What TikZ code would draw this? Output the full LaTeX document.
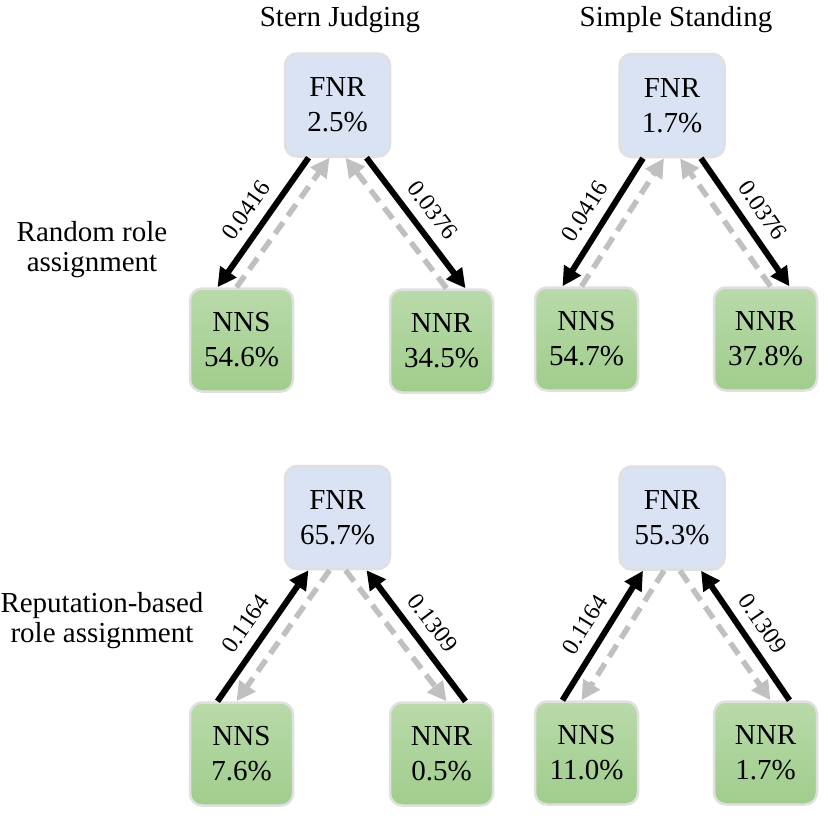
\documentclass[tikz,border=0pt]{standalone}
\usepackage{fontspec}
\setmainfont{Liberation Serif}
\usetikzlibrary{arrows.meta}
\definecolor{fnrfill}{HTML}{DAE3F3}
\definecolor{gtop}{HTML}{B9DAAA}
\definecolor{gbot}{HTML}{A0CD8C}
\definecolor{edgegray}{HTML}{C0C0C0}
\definecolor{boxline}{HTML}{E0E0E0}
\begin{document}
\begin{tikzpicture}[x=1pt,y=-1pt,
  boxbase/.style={rounded corners=12pt, draw=boxline, line width=2.5pt, minimum width=103pt, minimum height=103pt, inner sep=0pt, align=center, font=\fontsize{29}{35}\selectfont},
  fnrbox/.style={boxbase, fill=fnrfill, minimum width=105pt},
  nbox/.style={boxbase, top color=gtop, bottom color=gbot},
  solidarrow/.style={line width=6pt, draw=black, -{Triangle[length=19pt,width=19pt]}},
  dasharrow/.style={line width=5.5pt, draw=edgegray, dash pattern=on 14pt off 8pt, -{Triangle[length=19pt,width=19pt]}},
  ratelabel/.style={midway, sloped, above=8pt, inner sep=2pt, font=\fontsize{24}{28}\selectfont},
  heading/.style={font=\fontsize{29}{35}\selectfont},
  rowlabel/.style={align=center, font=\fontsize{29}{30}\selectfont}]
\useasboundingbox (0,0) rectangle (830,817);

% headings and row labels
\node[heading, anchor=base] (t1) at (340,26) {Stern Judging};
\node[heading, anchor=base] (t2) at (676,26) {Simple Standing};
\node[rowlabel] (r1) at (92,250) {Random role\\assignment};
\node[rowlabel] (r2) at (102,621) {Reputation-based\\role assignment};

% top-left
\node[fnrbox] (f1) at (337.5,105) {FNR\\2.5\%};
\node[nbox] (s1) at (241.5,340) {NNS\\54.6\%};
\node[nbox] (n1) at (441.5,341) {NNR\\34.5\%};
% top-right
\node[fnrbox] (f2) at (672,105.5) {FNR\\1.7\%};
\node[nbox] (s2) at (586.5,339) {NNS\\54.7\%};
\node[nbox] (n2) at (765.5,339) {NNR\\37.8\%};
% bottom-left
\node[fnrbox] (f3) at (337.5,517.5) {FNR\\65.7\%};
\node[nbox] (s3) at (241.5,754) {NNS\\7.6\%};
\node[nbox] (n3) at (441.5,754) {NNR\\0.5\%};
% bottom-right
\node[fnrbox] (f4) at (672,518) {FNR\\55.3\%};
\node[nbox] (s4) at (586.5,753) {NNS\\11.0\%};
\node[nbox] (n4) at (765.5,753) {NNR\\1.7\%};

% top-left edges
\draw[dasharrow] ([xshift=-5pt]s1.north) -- ([xshift=-8pt]f1.south);
\draw[dasharrow] ([xshift=5pt]n1.north) -- ([xshift=8pt]f1.south);
\draw[solidarrow] ([xshift=-29pt]f1.south) -- node[ratelabel]{0.0416} ([xshift=-24pt]s1.north);
\draw[solidarrow] ([xshift=29pt]f1.south) -- node[ratelabel]{0.0376} ([xshift=24pt]n1.north);
% top-right edges
\draw[dasharrow] ([xshift=-5pt]s2.north) -- ([xshift=-8pt]f2.south);
\draw[dasharrow] ([xshift=5pt]n2.north) -- ([xshift=8pt]f2.south);
\draw[solidarrow] ([xshift=-29pt]f2.south) -- node[ratelabel]{0.0416} ([xshift=-24pt]s2.north);
\draw[solidarrow] ([xshift=29pt]f2.south) -- node[ratelabel]{0.0376} ([xshift=24pt]n2.north);
% bottom-left edges
\draw[dasharrow] ([xshift=-8pt]f3.south) -- ([xshift=-5pt]s3.north);
\draw[dasharrow] ([xshift=8pt]f3.south) -- ([xshift=5pt]n3.north);
\draw[solidarrow] ([xshift=-24pt]s3.north) -- node[ratelabel]{0.1164} ([xshift=-29pt]f3.south);
\draw[solidarrow] ([xshift=24pt]n3.north) -- node[ratelabel]{0.1309} ([xshift=29pt]f3.south);
% bottom-right edges
\draw[dasharrow] ([xshift=-8pt]f4.south) -- ([xshift=-5pt]s4.north);
\draw[dasharrow] ([xshift=8pt]f4.south) -- ([xshift=5pt]n4.north);
\draw[solidarrow] ([xshift=-24pt]s4.north) -- node[ratelabel]{0.1164} ([xshift=-29pt]f4.south);
\draw[solidarrow] ([xshift=24pt]n4.north) -- node[ratelabel]{0.1309} ([xshift=29pt]f4.south);
\end{tikzpicture}
\end{document}
